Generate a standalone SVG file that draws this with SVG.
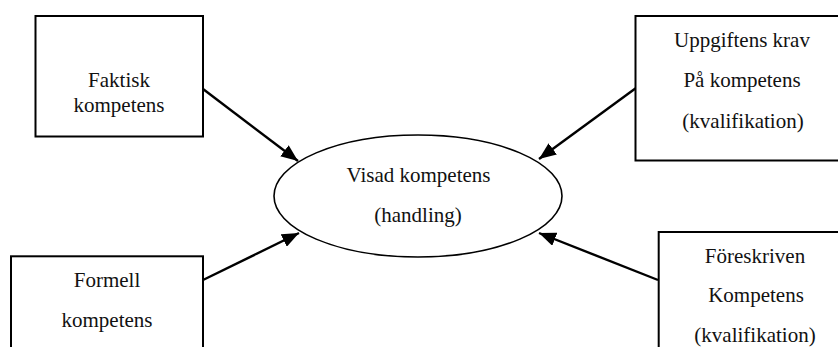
<svg xmlns="http://www.w3.org/2000/svg" width="838" height="347" viewBox="0 0 838 347">
  <style>
    .box { fill: #fff; stroke: #000; stroke-width: 2; }
    .oval { fill: #fff; stroke: #000; stroke-width: 1.6; }
    .lbl { font-family: "Liberation Serif", "Times New Roman", serif; font-size: 21px; fill: #111; text-anchor: middle; }
    .edge { stroke: #000; stroke-width: 2.4; fill: none; marker-end: url(#head); }
  </style>
  <defs>
    <marker id="head" markerUnits="userSpaceOnUse" markerWidth="18" markerHeight="14" refX="17" refY="7" orient="auto">
      <path d="M0,0 L17,7 L0,14 Z" fill="#000"/>
    </marker>
  </defs>
  <rect width="838" height="347" fill="#fff"/>

  <g id="connectors">
    <line class="edge" x1="203" y1="89" x2="298" y2="161"/>
    <line class="edge" x1="636" y1="88" x2="539" y2="159"/>
    <line class="edge" x1="203" y1="280" x2="299" y2="233"/>
    <line class="edge" x1="658" y1="280" x2="539" y2="233"/>
  </g>

  <g id="faktisk">
    <rect class="box" x="35.5" y="16" width="167.5" height="120.5"/>
    <text class="lbl" x="119" y="87">Faktisk</text>
    <text class="lbl" x="119" y="112">kompetens</text>
  </g>

  <g id="uppgiftens">
    <rect class="box" x="635.5" y="16" width="220" height="144.5"/>
    <text class="lbl" x="742" y="47">Uppgiftens krav</text>
    <text class="lbl" x="742" y="87">På kompetens</text>
    <text class="lbl" x="743" y="128">(kvalifikation)</text>
  </g>

  <g id="visad">
    <ellipse class="oval" cx="418" cy="196" rx="144" ry="61"/>
    <text class="lbl" x="418.5" y="182">Visad kompetens</text>
    <text class="lbl" x="418" y="222">(handling)</text>
  </g>

  <g id="formell">
    <rect class="box" x="11" y="256.3" width="192" height="120"/>
    <text class="lbl" x="107" y="287">Formell</text>
    <text class="lbl" x="107" y="327">kompetens</text>
  </g>

  <g id="foreskriven">
    <rect class="box" x="658.7" y="232" width="200" height="140"/>
    <text class="lbl" x="755" y="263">Föreskriven</text>
    <text class="lbl" x="756" y="302">Kompetens</text>
    <text class="lbl" x="755" y="342">(kvalifikation)</text>
  </g>
</svg>
